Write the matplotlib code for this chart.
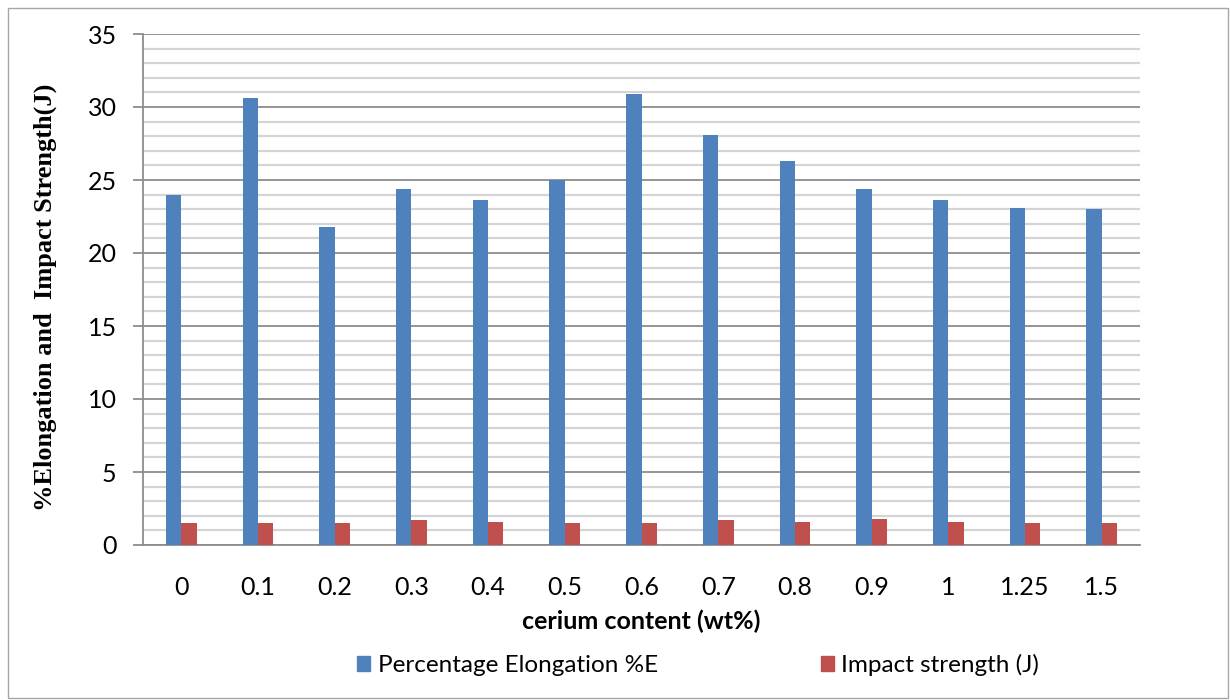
import matplotlib
matplotlib.use("Agg")
import matplotlib.pyplot as plt
import numpy as np
from matplotlib.patches import Rectangle, Patch
from matplotlib.ticker import MultipleLocator

categories = ["0", "0.1", "0.2", "0.3", "0.4", "0.5", "0.6", "0.7", "0.8", "0.9", "1", "1.25", "1.5"]
elongation = [24.0, 30.6, 21.8, 24.4, 23.6, 25.0, 30.9, 28.1, 26.3, 24.4, 23.6, 23.1, 23.0]
impact = [1.5, 1.5, 1.5, 1.7, 1.6, 1.5, 1.5, 1.7, 1.6, 1.8, 1.6, 1.5, 1.5]

blue = "#4f81bd"
red = "#c0504d"
sans = ["Lato", "DejaVu Sans"]

fig = plt.figure(figsize=(12.3, 7), dpi=100)
fig.patches.append(Rectangle((8/1230, 2/700), 1220/1230, 690/700, transform=fig.transFigure,
                             fill=False, edgecolor="#a6a6a6", linewidth=1.0))
ax = fig.add_axes([143/1230, 155/700, 997/1230, 511/700])

x = np.arange(len(categories))
w = 0.2
ax.bar(x - w/2, elongation, width=w, color=blue, zorder=3, label="Percentage Elongation %E")
ax.bar(x + w/2, impact, width=w, color=red, zorder=3, label="Impact strength (J)")

ax.set_xlim(-0.5, len(categories) - 0.5)
ax.set_ylim(0, 35)
ax.yaxis.set_major_locator(MultipleLocator(5))
ax.yaxis.set_minor_locator(MultipleLocator(1))
ax.grid(axis="y", which="major", color="#8c8c8c", linewidth=1.3, zorder=1)
ax.grid(axis="y", which="minor", color="#d4d4d4", linewidth=1.6, zorder=0)
ax.set_axisbelow(True)

for s in ["top", "right"]:
    ax.spines[s].set_visible(False)
ax.spines["left"].set_color("#8c8c8c")
ax.spines["bottom"].set_color("#8c8c8c")
ax.spines["left"].set_linewidth(1.3)
ax.spines["bottom"].set_linewidth(1.3)

ax.set_xticks(x)
ax.set_xticklabels(categories, fontsize=18, family=sans)
ax.tick_params(axis="x", length=0, pad=22)
ax.tick_params(axis="y", which="major", length=7, color="#8c8c8c", width=1.3, pad=12, labelsize=18)
ax.tick_params(axis="y", which="minor", length=0)
for lab in ax.get_yticklabels():
    lab.set_family(sans)

ax.set_xlabel("cerium content (wt%)", fontsize=18, fontweight="bold", family=sans, labelpad=8)
fig.text(45/1230, (700-297)/700, "%Elongation and  Impact Strength(J)", rotation=90,
         ha="center", va="center", fontsize=19, fontweight="bold", family=["Liberation Serif", "DejaVu Serif"])

handles = [Patch(color=blue), Patch(color=red)]
fig.legend(handles, ["Percentage Elongation %E", "Impact strength (J)"], loc="center left",
           bbox_to_anchor=(357/1230, (700-665)/700), ncol=2, frameon=False,
           borderpad=0, borderaxespad=0,
           prop={"family": sans, "size": 17.5}, handlelength=0.55, handleheight=0.55,
           handletextpad=0.3, columnspacing=6.7)

fig.savefig("out.png", dpi=100)
